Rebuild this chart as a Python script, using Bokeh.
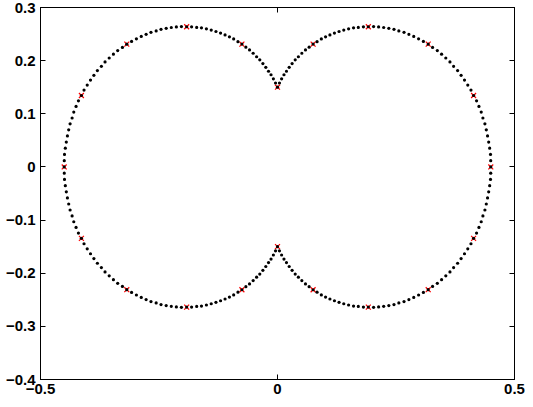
import numpy as np
from bokeh.plotting import figure
from bokeh.models import FixedTicker, LinearAxis, Range1d, CustomJSTickFormatter
from bokeh.embed import file_html
from bokeh.resources import INLINE

# sampled curve (polar): angle in degrees, radius
theta_deg = [
    0, 1.5, 3, 4.5, 6, 7.5, 9, 10.5, 12, 13.5, 15, 16.5,
    18, 19.5, 21, 22.5, 24, 25.5, 27, 28.5, 30, 31.5, 33, 34.5,
    36, 37.5, 39, 40.5, 42, 43.5, 45, 46.5, 48, 49.5, 51, 52.5,
    54, 55.5, 57, 58.5, 60, 61.5, 63, 64.5, 66, 67.5, 69, 70.5,
    72, 73.5, 75, 76.5, 78, 79.5, 81, 82.5, 84, 85.5, 87, 88.5,
    90, 91.5, 93, 94.5, 96, 97.5, 99, 100.5, 102, 103.5, 105, 106.5,
    108, 109.5, 111, 112.5, 114, 115.5, 117, 118.5, 120, 121.5, 123, 124.5,
    126, 127.5, 129, 130.5, 132, 133.5, 135, 136.5, 138, 139.5, 141, 142.5,
    144, 145.5, 147, 148.5, 150, 151.5, 153, 154.5, 156, 157.5, 159, 160.5,
    162, 163.5, 165, 166.5, 168, 169.5, 171, 172.5, 174, 175.5, 177, 178.5,
    180, 181.5, 183, 184.5, 186, 187.5, 189, 190.5, 192, 193.5, 195, 196.5,
    198, 199.5, 201, 202.5, 204, 205.5, 207, 208.5, 210, 211.5, 213, 214.5,
    216, 217.5, 219, 220.5, 222, 223.5, 225, 226.5, 228, 229.5, 231, 232.5,
    234, 235.5, 237, 238.5, 240, 241.5, 243, 244.5, 246, 247.5, 249, 250.5,
    252, 253.5, 255, 256.5, 258, 259.5, 261, 262.5, 264, 265.5, 267, 268.5,
    270, 271.5, 273, 274.5, 276, 277.5, 279, 280.5, 282, 283.5, 285, 286.5,
    288, 289.5, 291, 292.5, 294, 295.5, 297, 298.5, 300, 301.5, 303, 304.5,
    306, 307.5, 309, 310.5, 312, 313.5, 315, 316.5, 318, 319.5, 321, 322.5,
    324, 325.5, 327, 328.5, 330, 331.5, 333, 334.5, 336, 337.5, 339, 340.5,
    342, 343.5, 345, 346.5, 348, 349.5, 351, 352.5, 354, 355.5, 357, 358.5,
]
radius = [
    0.450, 0.450, 0.450, 0.449, 0.448, 0.447, 0.446, 0.445, 0.443, 0.442, 0.440, 0.438,
    0.435, 0.433, 0.430, 0.427, 0.424, 0.421, 0.417, 0.414, 0.410, 0.406, 0.402, 0.397,
    0.393, 0.388, 0.383, 0.378, 0.373, 0.368, 0.362, 0.357, 0.351, 0.345, 0.339, 0.333,
    0.326, 0.320, 0.313, 0.307, 0.300, 0.293, 0.286, 0.279, 0.272, 0.265, 0.258, 0.250,
    0.243, 0.235, 0.228, 0.220, 0.212, 0.205, 0.197, 0.189, 0.181, 0.174, 0.166, 0.158,
    0.150, 0.158, 0.166, 0.174, 0.181, 0.189, 0.197, 0.205, 0.212, 0.220, 0.228, 0.235,
    0.243, 0.250, 0.258, 0.265, 0.272, 0.279, 0.286, 0.293, 0.300, 0.307, 0.313, 0.320,
    0.326, 0.333, 0.339, 0.345, 0.351, 0.357, 0.362, 0.368, 0.373, 0.378, 0.383, 0.388,
    0.393, 0.397, 0.402, 0.406, 0.410, 0.414, 0.417, 0.421, 0.424, 0.427, 0.430, 0.433,
    0.435, 0.438, 0.440, 0.442, 0.443, 0.445, 0.446, 0.447, 0.448, 0.449, 0.450, 0.450,
    0.450, 0.450, 0.450, 0.449, 0.448, 0.447, 0.446, 0.445, 0.443, 0.442, 0.440, 0.438,
    0.435, 0.433, 0.430, 0.427, 0.424, 0.421, 0.417, 0.414, 0.410, 0.406, 0.402, 0.397,
    0.393, 0.388, 0.383, 0.378, 0.373, 0.368, 0.362, 0.357, 0.351, 0.345, 0.339, 0.333,
    0.326, 0.320, 0.313, 0.307, 0.300, 0.293, 0.286, 0.279, 0.272, 0.265, 0.258, 0.250,
    0.243, 0.235, 0.228, 0.220, 0.212, 0.205, 0.197, 0.189, 0.181, 0.174, 0.166, 0.158,
    0.150, 0.158, 0.166, 0.174, 0.181, 0.189, 0.197, 0.205, 0.212, 0.220, 0.228, 0.235,
    0.243, 0.250, 0.258, 0.265, 0.272, 0.279, 0.286, 0.293, 0.300, 0.307, 0.313, 0.320,
    0.326, 0.333, 0.339, 0.345, 0.351, 0.357, 0.362, 0.368, 0.373, 0.378, 0.383, 0.388,
    0.393, 0.397, 0.402, 0.406, 0.410, 0.414, 0.417, 0.421, 0.424, 0.427, 0.430, 0.433,
    0.435, 0.438, 0.440, 0.442, 0.443, 0.445, 0.446, 0.447, 0.448, 0.449, 0.450, 0.450,
]

# highlighted samples (red crosses)
mark_theta_deg = [0, 18, 36, 54, 72, 90, 108, 126, 144, 162,
                  180, 198, 216, 234, 252, 270, 288, 306, 324, 342]
mark_radius = [0.450, 0.435, 0.393, 0.326, 0.243, 0.150, 0.243, 0.326, 0.393, 0.435,
               0.450, 0.435, 0.393, 0.326, 0.243, 0.150, 0.243, 0.326, 0.393, 0.435]

x_ticks = [-0.5, 0, 0.5]
x_tick_labels = ["\u22120.5", "0", "0.5"]
y_ticks = [-0.4, -0.3, -0.2, -0.1, 0, 0.1, 0.2, 0.3]
y_tick_labels = ["\u22120.4", "\u22120.3", "\u22120.2", "\u22120.1", "0", "0.1", "0.2", "0.3"]

th = np.radians(np.array(theta_deg))
r = np.array(radius)
xs = r * np.cos(th)
ys = r * np.sin(th)

mth = np.radians(np.array(mark_theta_deg))
mr = np.array(mark_radius)
mx = mr * np.cos(mth)
my = mr * np.sin(mth)

p = figure(width=525, height=399,
           x_range=Range1d(-0.5, 0.5), y_range=Range1d(-0.4, 0.3),
           output_backend="svg", toolbar_location=None,
           min_border_left=40, min_border_right=11,
           min_border_top=7, min_border_bottom=20)
p.grid.visible = False
p.outline_line_color = "black"
p.outline_line_width = 1
p.background_fill_color = "white"
p.border_fill_color = "white"

bottom = p.xaxis[0]
left = p.yaxis[0]

code = """
const i = tvals.findIndex(t => Math.abs(t - tick) < 1e-9);
return i >= 0 ? tlabels[i] : "";
"""
bottom.ticker = FixedTicker(ticks=x_ticks)
bottom.formatter = CustomJSTickFormatter(args=dict(tvals=x_ticks, tlabels=x_tick_labels), code=code)
left.ticker = FixedTicker(ticks=y_ticks)
left.formatter = CustomJSTickFormatter(args=dict(tvals=y_ticks, tlabels=y_tick_labels), code=code)

top = LinearAxis(ticker=FixedTicker(ticks=x_ticks),
                 formatter=CustomJSTickFormatter(code='return "";'))
right = LinearAxis(ticker=FixedTicker(ticks=y_ticks),
                   formatter=CustomJSTickFormatter(code='return "";'))
p.add_layout(top, "above")
p.add_layout(right, "right")

for ax in [bottom, left, top, right]:
    ax.major_tick_in = 5
    ax.major_tick_out = 0
    ax.minor_tick_line_color = None
    ax.axis_line_color = "black"
    ax.axis_line_width = 1
    ax.major_tick_line_color = "black"
    ax.major_label_text_font = "Liberation Sans"
    ax.major_label_text_font_style = "bold"
    ax.major_label_text_font_size = "15px"
    ax.major_label_text_color = "black"
bottom.major_label_standoff = 4
left.major_label_standoff = 5
for ax in [top, right]:
    ax.major_label_standoff = 0

p.scatter(mx, my, marker="x", size=7, line_color="#ff0000", line_width=1.2)
p.scatter(xs, ys, marker="circle", size=3.2, fill_color="black", line_color=None)

open("out.html", "w").write(file_html(p, INLINE))
